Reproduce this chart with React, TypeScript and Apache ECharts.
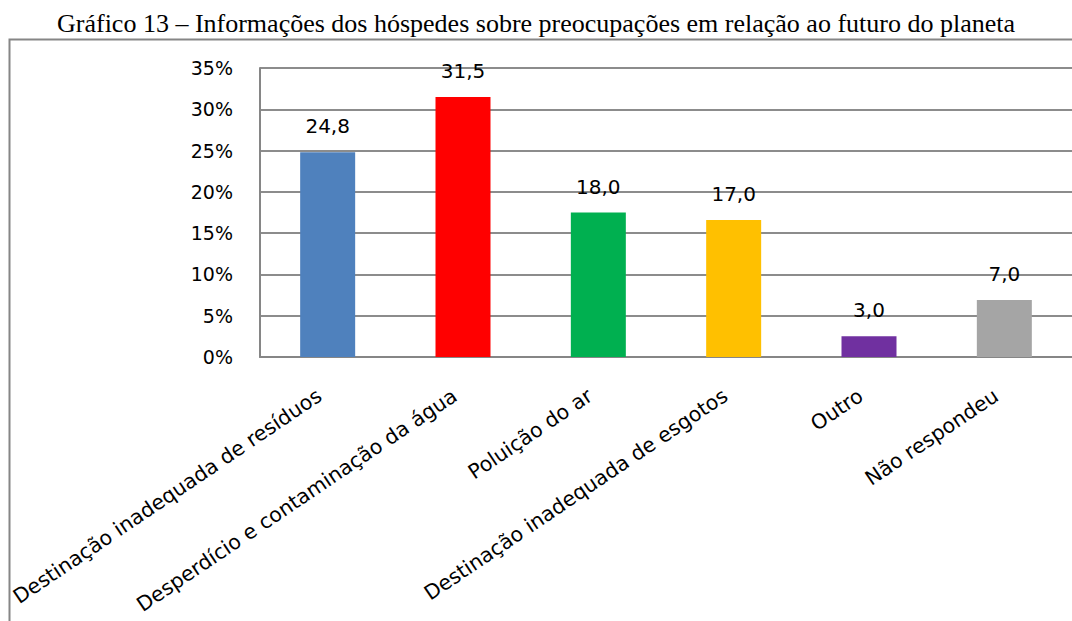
import React, { useEffect, useRef } from "react";
import * as echarts from "echarts";

const titleText =
  "Gráfico 13 – Informações dos hóspedes sobre preocupações em relação ao futuro do planeta";
const categories = [
  "Destinação inadequada de resíduos",
  "Desperdício e contaminação da água",
  "Poluição do ar",
  "Destinação inadequada de esgotos",
  "Outro",
  "Não respondeu",
];
const barValues = [24.8, 31.5, 17.5, 16.6, 2.5, 6.9];
const valueLabels = ["24,8", "31,5", "18,0", "17,0", "3,0", "7,0"];
const barColors = ["#4F81BD", "#FF0000", "#00B050", "#FFC000", "#7030A0", "#A5A5A5"];
const yMin = 0;
const yMax = 35;
const yStep = 5;

export default function App() {
  const ref = useRef<HTMLDivElement>(null);
  useEffect(() => {
    if (!ref.current) return;
    const chart = echarts.init(ref.current, undefined, { renderer: "svg" });
    const font = "'DejaVu Sans', sans-serif";
    chart.setOption({
      animation: false,
      backgroundColor: "#ffffff",
      graphic: [
        {
          type: "rect",
          shape: { x: 9.5, y: 39.5, width: 1200, height: 800 },
          style: { fill: "none", stroke: "#868686", lineWidth: 2 },
          z: 0,
        },
        {
          type: "text",
          x: 536,
          y: 23,
          style: {
            text: titleText,
            fill: "#000",
            font: "26px 'Liberation Serif', 'Times New Roman', serif",
            textAlign: "center",
            textVerticalAlign: "middle",
          },
        },
      ],
      grid: { left: 260, top: 68, bottom: 264, right: -10, containLabel: false },
      xAxis: {
        type: "category",
        data: categories,
        axisLine: { show: true, lineStyle: { color: "#868686", width: 2 } },
        axisTick: { show: false },
        axisLabel: {
          interval: 0,
          rotate: 34,
          margin: 31,
          padding: [0, 10, 0, 0],
          color: "#000",
          fontFamily: font,
          fontSize: 20.5,
        },
      },
      yAxis: {
        type: "value",
        min: yMin,
        max: yMax,
        interval: yStep,
        axisLine: { show: true, lineStyle: { color: "#868686", width: 2 } },
        axisTick: { show: false },
        splitLine: { lineStyle: { color: "#8c8c8c", width: 2 } },
        axisLabel: {
          formatter: "{value}%",
          margin: 27,
          color: "#000",
          fontFamily: font,
          fontSize: 19,
        },
      },
      series: [
        {
          type: "bar",
          barWidth: 55,
          data: barValues.map((v, i) => ({ value: v, itemStyle: { color: barColors[i] } })),
          label: {
            show: true,
            position: "top",
            distance: 16,
            color: "#000",
            fontFamily: font,
            fontSize: 20,
            formatter: (p: any) => valueLabels[p.dataIndex],
          },
        },
      ],
    });
    return () => chart.dispose();
  }, []);
  return (
    <div
      ref={ref}
      style={{ position: "fixed", left: 0, top: 0, width: 1072, height: 621 }}
    />
  );
}
